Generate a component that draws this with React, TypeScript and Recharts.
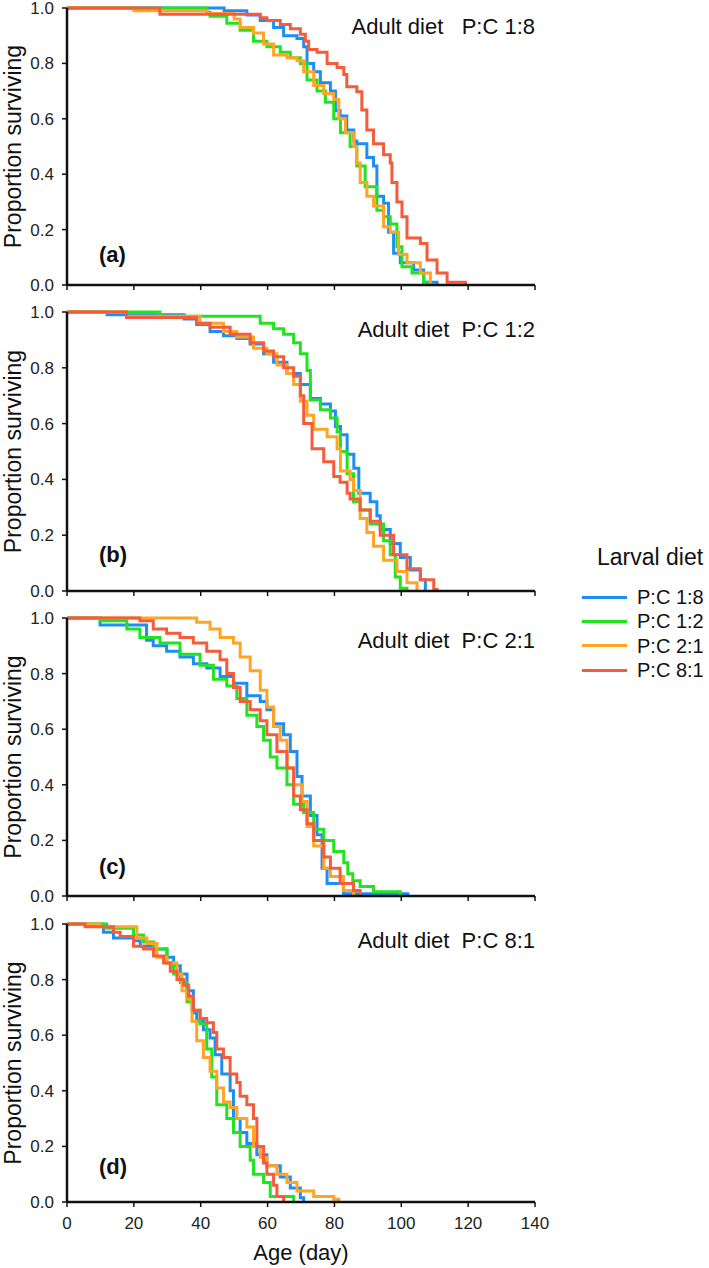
import { LineChart, Line, XAxis, YAxis } from 'recharts';

type Pt = [number, number];

// larval diet series colours (legend order)
const seriesNames = ['P:C 1:8', 'P:C 1:2', 'P:C 2:1', 'P:C 8:1'];
const seriesColors = ['#1e8ef5', '#22e322', '#ffa424', '#f65b3b'];

const adultDiets = ['Adult diet   P:C 1:8', 'Adult diet  P:C 1:2', 'Adult diet  P:C 2:1', 'Adult diet  P:C 8:1'];
const panelLetters = ['(a)', '(b)', '(c)', '(d)'];

const xTicks = [0, 20, 40, 60, 80, 100, 120, 140];
const yTicks = [0, 0.2, 0.4, 0.6, 0.8, 1.0];

// (a) adult diet P:C 1:8 — [age, proportion surviving]
const aBlue: Pt[] = [[0, 1], [47, 0.99], [53.8, 0.975], [57.8, 0.955], [61.8, 0.93], [64.8, 0.9], [68.8, 0.89], [70.8, 0.86], [71.8, 0.8], [73.8, 0.77], [75.8, 0.73], [78.8, 0.7], [80.3, 0.63], [81.7, 0.61], [83.7, 0.56], [85.8, 0.52], [86.7, 0.51], [89.7, 0.46], [91.7, 0.43], [92.7, 0.32], [94.7, 0.295], [96.2, 0.19], [97.7, 0.115], [99.7, 0.08], [103.7, 0.054], [106.7, 0.01], [110.7, 0]];
const aGreen: Pt[] = [[0, 1], [41.8, 0.985], [42.8, 0.97], [47.8, 0.945], [51.8, 0.92], [55.8, 0.88], [59.8, 0.86], [63.8, 0.84], [66.8, 0.82], [69.8, 0.8], [71.8, 0.74], [74.8, 0.7], [77.3, 0.66], [79.8, 0.6], [81.8, 0.55], [84.7, 0.5], [86.7, 0.43], [89.2, 0.355], [92.7, 0.27], [94.7, 0.246], [96.7, 0.22], [98.7, 0.138], [100.2, 0.066], [103.2, 0.043], [106.7, 0.01], [107.7, 0]];
const aOrange: Pt[] = [[0, 1], [20, 0.99], [42, 0.98], [50, 0.96], [51.8, 0.93], [55.8, 0.91], [58.8, 0.87], [61.8, 0.83], [65.8, 0.82], [68.8, 0.81], [70.8, 0.77], [73.8, 0.72], [76.8, 0.69], [79.8, 0.67], [81.3, 0.6], [83.3, 0.55], [85.8, 0.5], [86.7, 0.44], [87.7, 0.37], [89.7, 0.32], [91.7, 0.285], [94.7, 0.21], [96.7, 0.19], [99.2, 0.11], [101.7, 0.08], [105.7, 0.043], [108.7, 0]];
const aRed: Pt[] = [[0, 1], [27.8, 0.977], [57.8, 0.965], [59.8, 0.955], [63.8, 0.94], [66.8, 0.925], [69.8, 0.905], [71.3, 0.88], [72.3, 0.85], [74.8, 0.84], [77.8, 0.8], [80.8, 0.785], [82.8, 0.76], [83.7, 0.716], [86.7, 0.698], [88.2, 0.632], [89.7, 0.56], [91.7, 0.51], [94.7, 0.47], [96.7, 0.44], [97.2, 0.37], [98.7, 0.3], [100.2, 0.246], [101.7, 0.17], [105.7, 0.15], [107.7, 0.09], [110.7, 0.043], [113.7, 0.01], [119.2, 0]];

// (b) adult diet P:C 1:2
const bBlue: Pt[] = [[0, 1], [12, 0.99], [35, 0.975], [38.8, 0.955], [42.8, 0.93], [46.8, 0.915], [50.8, 0.905], [54.8, 0.885], [58.8, 0.85], [61.8, 0.82], [65.8, 0.78], [69.8, 0.74], [72.8, 0.69], [75.8, 0.67], [78.8, 0.645], [80.3, 0.59], [81.8, 0.56], [83.8, 0.49], [85.8, 0.44], [87.3, 0.35], [90.7, 0.32], [92.7, 0.27], [93.7, 0.22], [96.7, 0.17], [99.7, 0.12], [102.7, 0.075], [105.7, 0.04], [107.2, 0]];
const bGreen: Pt[] = [[0, 1], [27.8, 0.985], [57.8, 0.96], [61.8, 0.94], [64.8, 0.92], [67.8, 0.89], [69.8, 0.85], [71.8, 0.79], [72.8, 0.685], [75.8, 0.65], [78.8, 0.62], [80.8, 0.57], [81.8, 0.5], [83.8, 0.42], [85.7, 0.32], [87.7, 0.29], [90.7, 0.24], [94.7, 0.18], [96.7, 0.13], [98.2, 0.05], [99.7, 0.01], [101.7, 0]];
const bOrange: Pt[] = [[0, 1], [17.8, 0.985], [39.8, 0.96], [46.8, 0.93], [50.8, 0.91], [55.8, 0.87], [59.8, 0.85], [62.8, 0.81], [65.8, 0.78], [67.8, 0.74], [69.8, 0.68], [71.8, 0.63], [73.8, 0.58], [77.8, 0.553], [80.8, 0.51], [81.8, 0.43], [84.7, 0.4], [85.7, 0.36], [87.7, 0.26], [89.7, 0.21], [91.7, 0.16], [94.7, 0.11], [98.7, 0.07], [101.7, 0.03], [104.7, 0]];
const bRed: Pt[] = [[0, 1], [17.8, 0.98], [38.8, 0.96], [42.8, 0.945], [48.8, 0.92], [54.8, 0.89], [58.8, 0.86], [61.8, 0.84], [64.8, 0.8], [67.8, 0.77], [69.8, 0.7], [70.8, 0.6], [73.3, 0.51], [76.8, 0.463], [79.8, 0.41], [81.7, 0.39], [83.8, 0.35], [84.7, 0.33], [87.7, 0.29], [90.7, 0.25], [93.7, 0.2], [97.7, 0.13], [101.7, 0.08], [105.7, 0.04], [109.7, 0.005], [110.7, 0]];

// (c) adult diet P:C 2:1
const cBlue: Pt[] = [[0, 1], [9.9, 0.975], [23.8, 0.92], [25.8, 0.9], [29.8, 0.88], [33.8, 0.86], [37.8, 0.835], [41.8, 0.82], [45.8, 0.79], [49.8, 0.765], [53.8, 0.72], [57.8, 0.7], [59.8, 0.67], [61.8, 0.62], [64.8, 0.58], [66.8, 0.52], [68.8, 0.43], [70.3, 0.36], [72.8, 0.29], [74.8, 0.22], [76.3, 0.1], [77.8, 0.045], [82.7, 0.008], [102, 0]];
const cGreen: Pt[] = [[0, 1], [9.9, 0.99], [17.9, 0.96], [21.8, 0.93], [27.8, 0.91], [33.8, 0.87], [39.8, 0.83], [43.8, 0.78], [47.8, 0.755], [50.8, 0.71], [53.8, 0.65], [56.8, 0.61], [58.8, 0.56], [60.8, 0.5], [62.8, 0.46], [65.8, 0.4], [67.8, 0.33], [70.8, 0.3], [73.8, 0.24], [76.8, 0.2], [79.8, 0.16], [82.8, 0.12], [84, 0.08], [85.5, 0.055], [87.7, 0.034], [91.7, 0.015], [99.7, 0]];
const cOrange: Pt[] = [[0, 1], [38.8, 0.985], [42.8, 0.96], [45.8, 0.93], [49.8, 0.91], [51.8, 0.86], [54.8, 0.81], [57.8, 0.74], [59.8, 0.68], [61.8, 0.61], [63.8, 0.56], [65.8, 0.46], [67.8, 0.4], [70.3, 0.34], [71.8, 0.25], [73.8, 0.18], [76.8, 0.1], [78.8, 0.07], [82.7, 0.02], [85.7, 0]];
const cRed: Pt[] = [[0, 1], [21.8, 0.99], [25.8, 0.96], [29.8, 0.945], [33.8, 0.93], [37.8, 0.91], [41.8, 0.88], [45.8, 0.85], [47.8, 0.8], [49.8, 0.75], [51.8, 0.7], [54.8, 0.67], [57.8, 0.63], [59.8, 0.58], [62.8, 0.52], [65.8, 0.46], [67.8, 0.36], [69.8, 0.31], [71.8, 0.26], [73.8, 0.2], [76.8, 0.14], [78.8, 0.1], [81.7, 0.045], [85.7, 0.02], [87.7, 0]];

// (d) adult diet P:C 8:1
const dBlue: Pt[] = [[0, 1], [10.9, 0.97], [13.9, 0.95], [19.9, 0.94], [21.9, 0.92], [25.9, 0.91], [29.9, 0.88], [31.9, 0.85], [33.9, 0.82], [35.9, 0.76], [37.8, 0.68], [38.8, 0.65], [40.8, 0.62], [42.8, 0.59], [44.3, 0.53], [46.3, 0.46], [48.8, 0.4], [49.8, 0.3], [51.8, 0.25], [53.8, 0.21], [56.8, 0.17], [59.8, 0.13], [63.8, 0.09], [66.8, 0.05], [69.8, 0.015], [70.8, 0]];
const dGreen: Pt[] = [[0, 1], [11.9, 0.985], [19.9, 0.96], [22.9, 0.935], [25.9, 0.91], [29.9, 0.86], [31.9, 0.82], [33.9, 0.79], [35.9, 0.72], [37.4, 0.69], [39.8, 0.64], [41.8, 0.55], [43.3, 0.45], [44.8, 0.35], [47.8, 0.3], [49.8, 0.25], [51.8, 0.2], [54.8, 0.15], [55.8, 0.1], [58.8, 0.07], [60.8, 0.02], [67.8, 0]];
const dOrange: Pt[] = [[0, 1], [9.9, 0.99], [20.9, 0.95], [23.9, 0.93], [26.9, 0.88], [29.9, 0.86], [32.9, 0.82], [34.4, 0.76], [35.9, 0.73], [37.4, 0.65], [38.8, 0.58], [40.8, 0.52], [42.8, 0.47], [44.8, 0.41], [46.8, 0.36], [48.8, 0.34], [50.8, 0.3], [53.8, 0.27], [55.8, 0.2], [57.8, 0.16], [59.8, 0.13], [62.8, 0.1], [65.8, 0.07], [68.8, 0.04], [73.8, 0.02], [79.8, 0.01], [81.3, 0]];
const dRed: Pt[] = [[0, 1], [5.4, 0.99], [13.9, 0.97], [15.9, 0.955], [19.9, 0.92], [22.9, 0.91], [25.9, 0.885], [28.9, 0.86], [30.9, 0.83], [32.9, 0.8], [34.9, 0.78], [36.4, 0.74], [37.8, 0.69], [39.8, 0.66], [41.8, 0.645], [43.8, 0.61], [44.8, 0.55], [46.8, 0.52], [48.8, 0.46], [50.8, 0.43], [51.8, 0.38], [53.8, 0.35], [55.8, 0.3], [56.8, 0.2], [58.8, 0.14], [59.8, 0.1], [61.8, 0.06], [62.8, 0.02], [64.8, 0]];

const panelSeries: Pt[][][] = [
  [aBlue, aGreen, aOrange, aRed],
  [bBlue, bGreen, bOrange, bRed],
  [cBlue, cGreen, cOrange, cRed],
  [dBlue, dGreen, dOrange, dRed],
];

// layout (page pixels)
const FONT = '"Liberation Sans", Arial, Helvetica, sans-serif';
const W = 709;
const PLOT_LEFT = 67;
const PLOT_RIGHT = 535;
const PAD_TOP = 10;
const plotTops = [8, 312, 618, 924];
const plotHeights = [277, 279, 278, 278];
const titleCenters = [27, 330, 641, 941];
const letterCenters = [255, 555, 867, 1167];

const toRows = (pts: Pt[]) => pts.map(([age, s]) => ({ age, s }));

function Panel({ idx }: { idx: number }) {
  const last = idx === 3;
  const bottom = last ? 64 : 20;
  const h = plotHeights[idx];
  return (
    <div style={{ position: 'absolute', left: 0, top: plotTops[idx] - PAD_TOP }}>
      <LineChart
        width={W}
        height={h + PAD_TOP + bottom}
        margin={{ top: PAD_TOP, right: W - PLOT_RIGHT, bottom: 0, left: 0 }}
      >
        <XAxis
          dataKey="age"
          type="number"
          domain={[0, 140]}
          ticks={xTicks}
          allowDataOverflow
          height={bottom}
          axisLine={{ stroke: '#111', strokeWidth: 2.5 }}
          tickLine={{ stroke: '#111', strokeWidth: 1.5 }}
          tickSize={5}
          tickMargin={10}
          tick={{ fontSize: 17, fill: '#222', fontFamily: FONT }}
          tickFormatter={(v: number) => (last ? String(v) : '')}
          label={
            last
              ? { value: 'Age (day)', position: 'insideBottom', offset: 6, style: { fontSize: 22, fill: '#111', fontFamily: FONT } }
              : undefined
          }
        />
        <YAxis
          type="number"
          domain={[0, 1]}
          ticks={yTicks}
          width={PLOT_LEFT}
          axisLine={{ stroke: '#111', strokeWidth: 2.5 }}
          tickLine={{ stroke: '#111', strokeWidth: 1.5 }}
          tickSize={5}
          tickMargin={8}
          tick={{ fontSize: 17, fill: '#222', fontFamily: FONT }}
          tickFormatter={(v: number) => v.toFixed(1)}
          label={{
            value: 'Proportion surviving',
            angle: -90,
            position: 'insideLeft',
            offset: 13,
            style: { textAnchor: 'middle', fontSize: 23, fill: '#111', fontFamily: FONT },
          }}
        />
        {panelSeries[idx].map((pts, i) => (
          <Line
            key={seriesNames[i]}
            data={toRows(pts)}
            dataKey="s"
            name={seriesNames[i]}
            type="stepAfter"
            stroke={seriesColors[i]}
            strokeWidth={3}
            strokeLinejoin="miter"
            dot={false}
            activeDot={false}
            isAnimationActive={false}
          />
        ))}
      </LineChart>
    </div>
  );
}

export default function App() {
  return (
    <div style={{ position: 'absolute', left: 0, top: 0, width: W, height: 1268, background: '#fff', fontFamily: FONT }}>
      {[0, 1, 2, 3].map((i) => (
        <Panel key={i} idx={i} />
      ))}
      {adultDiets.map((t, i) => (
        <div
          key={t}
          style={{
            position: 'absolute',
            left: 0,
            width: PLOT_RIGHT,
            top: titleCenters[i] - 11,
            fontSize: 22,
            lineHeight: '22px',
            textAlign: 'right',
            whiteSpace: 'pre',
            color: '#111',
          }}
        >
          {t}
        </div>
      ))}
      {panelLetters.map((t, i) => (
        <div
          key={t}
          style={{
            position: 'absolute',
            left: 99,
            top: letterCenters[i] - 11,
            fontSize: 22,
            lineHeight: '22px',
            fontWeight: 'bold',
            color: '#111',
          }}
        >
          {t}
        </div>
      ))}
      <div style={{ position: 'absolute', left: 597, top: 546, fontSize: 23, lineHeight: '23px', color: '#111', whiteSpace: 'pre' }}>
        Larval diet
      </div>
      {seriesNames.map((n, i) => (
        <div key={n} style={{ position: 'absolute', left: 582, top: 597 + i * 24.4 - 11, height: 22, display: 'flex', alignItems: 'center' }}>
          <div style={{ width: 45, height: 3, background: seriesColors[i] }} />
          <div style={{ marginLeft: 10, fontSize: 20, lineHeight: '22px', color: '#111', whiteSpace: 'pre' }}>{n}</div>
        </div>
      ))}
    </div>
  );
}
